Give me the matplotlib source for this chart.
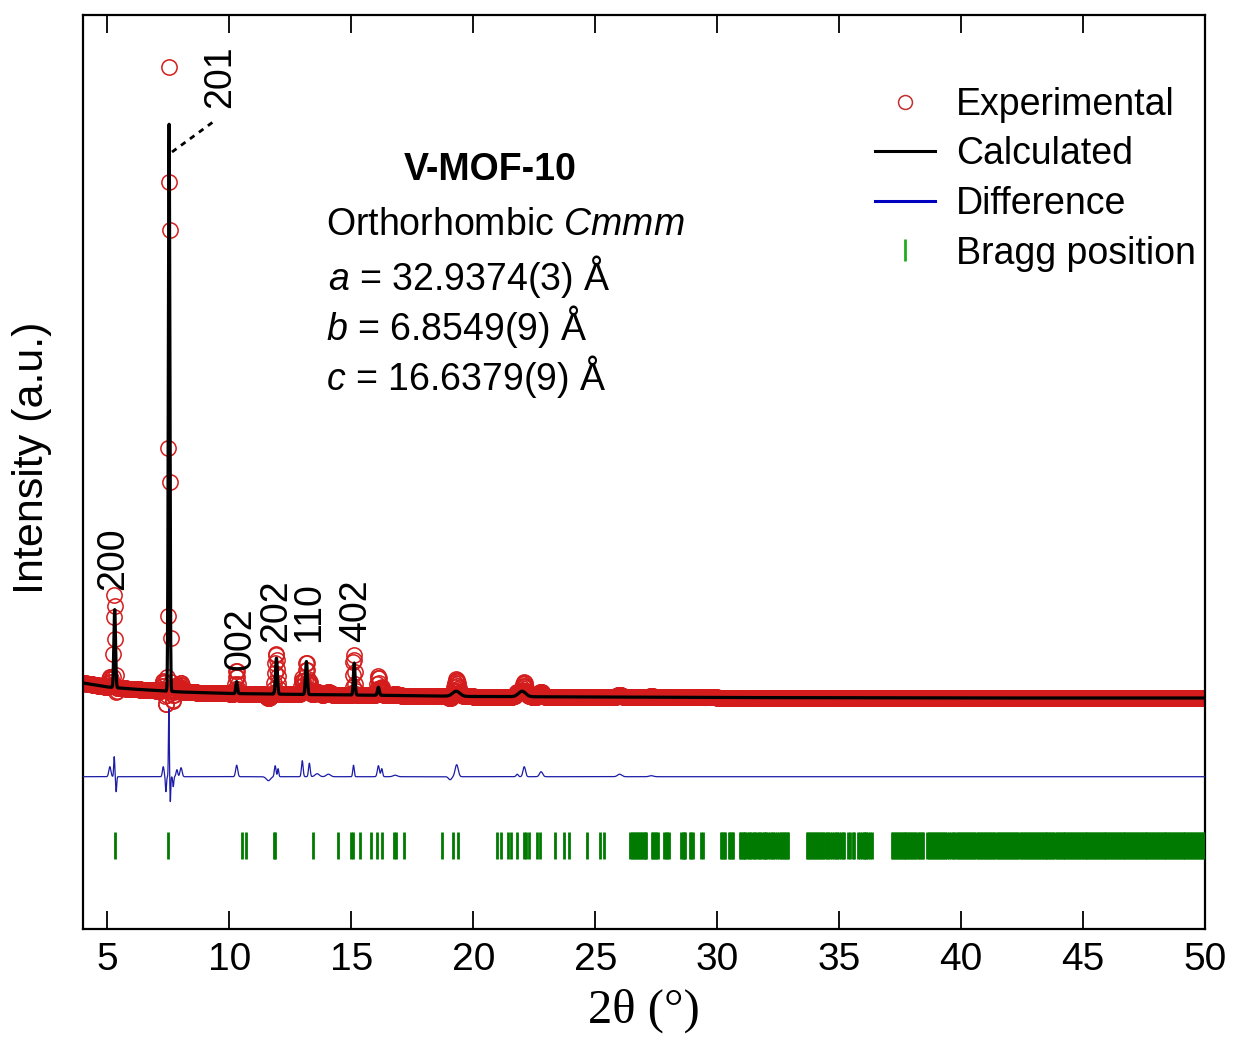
import numpy as np
import matplotlib
matplotlib.use('Agg')
import matplotlib.pyplot as plt
from matplotlib.lines import Line2D

plt.rcParams['font.family'] = ['Liberation Sans', 'DejaVu Sans']
plt.rcParams['mathtext.fontset'] = 'custom'
plt.rcParams['mathtext.rm'] = 'Liberation Sans'
plt.rcParams['mathtext.it'] = 'Liberation Sans:italic'

# ---------------- data ----------------
# background anchors (2theta, intensity)
bg_x = [4, 5, 6, 7, 8, 10, 13, 17, 20, 25, 30, 40, 50]
bg_y = [150, 110, 90, 75, 60, 45, 35, 25, 15, 10, 5, 0, 0]

# calculated peaks: position, height above background, FWHM
calc_pos = [5.30, 7.53, 10.30, 11.93, 13.16, 15.12, 16.11, 19.30, 22.00]
calc_h = [780, 5670, 120, 360, 330, 320, 80, 50, 55]
calc_w = [0.08, 0.07, 0.08, 0.09, 0.09, 0.08, 0.09, 0.35, 0.35]

# difference (obs - calc) features: position, amplitude, FWHM
diff_pos = [5.10, 5.28, 5.36, 7.29, 7.40, 7.52, 7.58, 7.70, 7.85, 8.02,
            10.30, 11.60, 11.88, 12.00, 12.99, 13.28, 13.60, 14.06, 15.09,
            16.11, 16.25, 16.80, 19.05, 19.32, 21.80, 22.09, 22.78, 26.00, 27.30]
diff_amp = [100, 200, -150, 100, -150, 680, -250, -100, 70, 90,
            115, -40, 110, 80, 160, 135, 30, 25, 115,
            110, 80, 15, -30, 120, 25, 100, 50, 25, 10]
diff_w = [0.10, 0.05, 0.05, 0.08, 0.05, 0.04, 0.04, 0.05, 0.08, 0.10,
          0.10, 0.20, 0.08, 0.06, 0.08, 0.08, 0.20, 0.20, 0.07,
          0.10, 0.08, 0.20, 0.15, 0.15, 0.10, 0.12, 0.15, 0.20, 0.20]

# Bragg positions (2theta)
bragg = [5.31, 7.50, 10.51, 10.67, 11.82, 11.88, 13.42, 14.44, 15.00, 15.06, 15.36,
         15.81, 16.05, 16.25, 16.73, 16.84, 17.17, 18.71, 19.16, 19.39, 20.96, 21.12,
         21.44, 21.54, 21.81, 22.06, 22.17, 22.30, 22.60, 22.74, 23.36, 23.73, 23.93,
         24.68, 25.18, 25.37,
         26.44, 26.50, 26.56, 26.62, 26.68, 26.74, 26.80, 26.86, 26.92, 26.98, 27.04, 27.10,
         27.32, 27.38, 27.44, 27.50, 27.56, 27.84, 27.90, 27.96, 28.02,
         28.52, 28.58, 28.64, 28.68, 28.87, 28.93, 28.99, 29.34, 29.40,
         30.14, 30.20, 30.26, 30.32, 30.48, 30.54, 30.60, 30.66,
         30.92, 30.98, 31.04, 31.10, 31.16, 31.22, 31.30, 31.36, 31.42, 31.50, 31.56, 31.62,
         31.70, 31.76, 31.82, 31.90, 31.96, 32.02, 32.10, 32.16, 32.24, 32.30, 32.38, 32.46,
         32.52, 32.60, 32.66, 32.74, 32.80, 32.86, 32.91,
         33.68, 33.74, 33.80, 33.86, 33.92, 33.98, 34.04, 34.10, 34.16, 34.22, 34.28, 34.34,
         34.42, 34.50, 34.56, 34.64, 34.72, 34.78, 34.86, 34.92, 35.00, 35.08, 35.16, 35.22,
         35.36, 35.46, 35.56, 35.62, 35.78, 35.86, 35.92, 36.00, 36.06, 36.12, 36.18, 36.26, 36.33,
         37.16, 37.22, 37.28, 37.34, 37.40, 37.46, 37.52, 37.58, 37.64, 37.70, 37.76, 37.82,
         37.88, 37.94, 38.00, 38.06, 38.12, 38.18, 38.26, 38.32, 38.38, 38.44,
         38.62, 38.68, 38.74, 38.80, 38.86, 38.92, 38.98, 39.04, 39.10, 39.16, 39.22, 39.28,
         39.36, 39.44, 39.52, 39.60, 39.66, 39.72, 39.78, 39.86, 39.92, 39.98, 40.04, 40.12,
         40.18, 40.24, 40.30, 40.36, 40.42, 40.48, 40.54, 40.62, 40.68, 40.74, 40.80, 40.86,
         40.92, 40.98, 41.06, 41.12, 41.18, 41.24, 41.30, 41.36, 41.42, 41.50, 41.56, 41.62,
         41.68, 41.74, 41.80, 41.88, 41.94, 42.00, 42.06, 42.12, 42.18, 42.24, 42.30, 42.38,
         42.44, 42.50, 42.56, 42.62, 42.70, 42.76, 42.82, 42.88, 42.94, 43.00, 43.06, 43.12,
         43.18, 43.24, 43.30, 43.36, 43.42, 43.48, 43.54, 43.60, 43.66, 43.72, 43.78, 43.86,
         43.92, 43.98, 44.04, 44.10, 44.16, 44.22, 44.28, 44.34, 44.40, 44.46, 44.52, 44.58,
         44.64, 44.70, 44.76, 44.82, 44.88, 44.94, 45.00, 45.06, 45.12, 45.18, 45.24, 45.30,
         45.36, 45.42, 45.48, 45.54, 45.60, 45.66, 45.72, 45.78, 45.84, 45.90, 45.96, 46.02,
         46.08, 46.14, 46.20, 46.26, 46.32, 46.38, 46.44, 46.50, 46.56, 46.62, 46.68, 46.74,
         46.80, 46.86, 46.92, 46.98, 47.04, 47.10, 47.16, 47.22, 47.28, 47.34, 47.40, 47.46,
         47.52, 47.58, 47.64, 47.70, 47.76, 47.82, 47.88, 47.94, 48.00, 48.06, 48.12, 48.18,
         48.24, 48.30, 48.36, 48.42, 48.48, 48.54, 48.60, 48.66, 48.72, 48.78, 48.84, 48.90,
         48.96, 49.02, 49.08, 49.14, 49.20, 49.26, 49.32, 49.38, 49.44, 49.50, 49.56, 49.62,
         49.68, 49.74, 49.80, 49.86, 49.92, 49.98]

peak_labels = ['200', '201', '002', '202', '110', '402']
xticks = [5, 10, 15, 20, 25, 30, 35, 40, 45, 50]

diff_offset = -787
bragg_lo, bragg_hi = -1610, -1340


def profile(x, pos, h, w):
    y = np.zeros_like(x)
    for p, a, f in zip(pos, h, w):
        s = f / 2.3548
        y += a * np.exp(-0.5 * ((x - p) / s) ** 2)
    return y


x_fine = np.arange(4.0, 50.0001, 0.005)
x_obs = np.arange(4.01, 50.0, 0.02)

calc_fine = np.interp(x_fine, bg_x, bg_y) + profile(x_fine, calc_pos, calc_h, calc_w)
diff_fine = profile(x_fine, diff_pos, diff_amp, diff_w)
obs = (np.interp(x_obs, bg_x, bg_y) + profile(x_obs, calc_pos, calc_h, calc_w)
       + profile(x_obs, diff_pos, diff_amp, diff_w))

# ---------------- figure ----------------
W, H = 1234, 1057
fig = plt.figure(figsize=(W / 100, H / 100), dpi=100)
L, R, T, B = 83, 1205, 15, 929
ax = fig.add_axes([L / W, 1 - B / H, (R - L) / W, (B - T) / H])


def pax(px, py):
    return ((px - L) / (R - L), (B - py) / (B - T))


red = '#d41c1c'
ax.plot(x_obs, obs, ls='none', marker='o', ms=11, mfc='none', mec=red, mew=1.1, zorder=2)
ax.plot(x_fine, calc_fine, color='black', lw=2.3, zorder=3)
ax.plot(x_fine, diff_fine + diff_offset, color='#1c1ca8', lw=0.9, zorder=3)
ax.vlines(bragg, bragg_lo, bragg_hi, color='#007a00', lw=2.0, zorder=3)

ax.set_xlim(4, 50)
ax.set_ylim(-2310, 6830)
ax.set_xticks(xticks)
ax.set_yticks([])
ax.tick_params(axis='x', which='both', direction='in', top=True, length=13, width=1.3,
               labelsize=28, pad=9)
for s in ax.spines.values():
    s.set_linewidth(1.6)

ax.set_xlabel('2θ (°)', family='Liberation Serif', fontsize=35, labelpad=8)
fig.text(32 / W, 1 - 458 / H, 'Intensity (a.u.)', rotation=90, ha='center', va='center',
         fontsize=31)

# peak labels
lab_px = [(113, 590), (220, 108), (240, 670), (276, 642), (309, 642), (356, 642)]
for t, (px, py) in zip(peak_labels, lab_px):
    ax.text(*pax(px, py), t, transform=ax.transAxes, rotation=90, ha='center', va='bottom',
            fontsize=27)
x0, y0 = pax(172, 152)
x1, y1 = pax(213, 122)
ax.plot([x0, x1], [y0, y1], transform=ax.transAxes, color='black', ls=(0, (2, 2)), lw=2)

# annotation
ax.text(*pax(490, 170), 'V-MOF-10', transform=ax.transAxes, ha='center', va='center',
        fontsize=27, fontweight='bold')
ax.text(*pax(326, 225), 'Orthorhombic $\\it{Cmmm}$', transform=ax.transAxes, ha='left',
        va='center', fontsize=27)
ax.text(*pax(328, 277), '$a$ = 32.9374(3) Å', transform=ax.transAxes, ha='left', va='center', fontsize=27)
ax.text(*pax(326, 327), '$b$ = 6.8549(9) Å', transform=ax.transAxes, ha='left', va='center', fontsize=27)
ax.text(*pax(326, 377), '$c$ = 16.6379(9) Å', transform=ax.transAxes, ha='left', va='center', fontsize=27)

# legend
handles = [Line2D([], [], ls='none', marker='o', ms=10, mfc='none', mec='#c03030', mew=1.1),
           Line2D([], [], color='black', lw=2.2),
           Line2D([], [], color='#0000c0', lw=2.2),
           Line2D([], [], ls='none', marker='|', ms=16, mew=2, color='#22aa22')]
labels = ['Experimental', 'Calculated', 'Difference', 'Bragg position']
ax.legend(handles, labels, loc='upper left', bbox_to_anchor=pax(875, 87), frameon=False,
          fontsize=27, handlelength=1.6, handletextpad=0.55, labelspacing=0.36,
          borderpad=0, borderaxespad=0)

fig.savefig('out.png', dpi=100)
